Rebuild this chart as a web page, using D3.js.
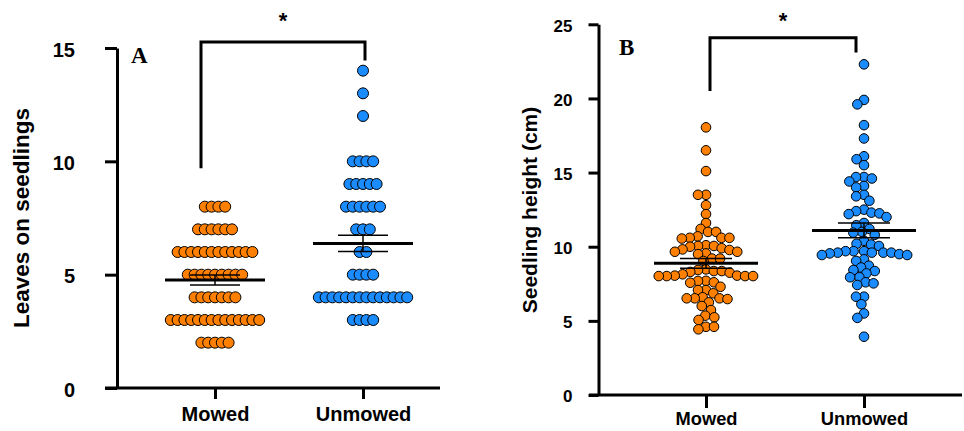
<!DOCTYPE html>
<meta charset="utf-8">
<script src="https://d3js.org/d3.v7.min.js"></script>
<style>
  body { margin: 0; background: #fff; }
  text { font-family: "Liberation Sans", Arial, sans-serif; font-weight: bold; fill: #000; }
</style>
<body>
<div id="chart"></div>
<script>
// groups and data
const groups = ["Mowed", "Unmowed"];

const leavesMowed = [8,8,8,8, 7,7,7,7,7,7, 6,6,6,6,6,6,6,6,6,6,6,6,
  5,5,5,5,5,5,5,5,5, 4,4,4,4,4,4,4, 3,3,3,3,3,3,3,3,3,3,3,3,3,3, 2,2,2,2,2];
const leavesUnmowed = [14, 13, 12, 10,10,10,10, 9,9,9,9,9, 8,8,8,8,8,8, 7,7,7, 6,6,
  5,5,5,5, 4,4,4,4,4,4,4,4,4,4,4,4,4,4, 3,3,3,3];

const heightMowed = [18.05, 16.5, 15.1, 13.5, 13.5, 12.8, 12.2, 11.6, 11.2, 10.7, 10.55, 10.6,
  10.1, 9.9, 10.0, 10.05, 9.5, 9.66, 9.66, 9.2, 8.05, 8.05, 8.3, 8.36, 8.14, 8.47, 8.36,
  7.6, 7.69, 7.7, 7.08, 7.08, 6.59, 6.52, 6.47, 6.0, 6.25, 5.73, 5.24, 5.06, 4.6, 4.43,
  11.0, 11.0, 10.6, 10.6, 10.05, 9.78, 9.82, 9.55, 9.2, 9.04, 8.43, 8.25, 8.02, 8.02, 8.02,
  8.02, 7.57, 7.3, 6.86, 6.52, 6.52, 5.35, 4.6];
const heightUnmowed = [22.3, 19.9, 19.6, 18.2, 17.3, 16.1, 15.9, 15.5, 14.6, 14.7, 14.7, 14.4,
  14.1, 14.0, 13.4, 13.5, 13.1, 12.5, 12.25, 12.2, 12.0, 12.3, 12.4, 11.45, 11.6, 11.2, 10.95,
  11.0, 10.8, 10.4, 10.15, 10.05, 10.2, 9.7, 9.6, 9.6, 9.5, 9.44, 9.55, 9.7, 9.44, 9.7, 9.6,
  9.6, 9.15, 9.04, 8.6, 8.72, 8.36, 8.2, 8.43, 7.94, 7.94, 7.6, 7.42, 7.53, 6.63, 6.63, 6.12,
  5.5, 5.2, 3.93];

// mean and SEM as drawn
const leavesMean = [4.76, 6.38];
const leavesSem = [0.22, 0.36];
const heightMean = [8.88, 11.1];
const heightSem = [0.33, 0.5];

const leavesTicks = [0, 5, 10, 15];
const heightTicks = [0, 5, 10, 15, 20, 25];
const colors = ["#ff8000", "#1a8cff"];

const svg = d3.select("#chart").append("svg")
  .attr("width", 964).attr("height", 431);

// rows of overlapping dots centred on the group
function rowLayout(values, step) {
  const out = [];
  d3.group(values, v => v).forEach((arr, v) => {
    arr.forEach((_, i) => out.push({v, dx: (i - (arr.length - 1) / 2) * step}));
  });
  return out;
}

// simple symmetric beeswarm
function dodge(values, y, d) {
  const pts = values.map(v => ({v, py: y(v)})).sort((a, b) => a.py - b.py);
  const placed = [];
  for (const p of pts) {
    const cands = [0];
    for (const q of placed) {
      const dy = Math.abs(q.py - p.py);
      if (dy < d) {
        const w = Math.sqrt(d * d - dy * dy);
        cands.push(q.dx - w, q.dx + w);
      }
    }
    cands.sort((a, b) => Math.abs(a) - Math.abs(b));
    for (const c of cands) {
      if (placed.every(q => (q.dx - c) ** 2 + (q.py - p.py) ** 2 >= d * d - 1e-6)) { p.dx = c; break; }
    }
    placed.push(p);
  }
  return placed;
}

function panel(cfg) {
  const g = svg.append("g");
  const y = d3.scaleLinear().domain([cfg.ticks[0], cfg.ticks[cfg.ticks.length - 1]])
    .range([cfg.bottom, cfg.top]);
  const x = d3.scalePoint().domain(groups).range(cfg.xr);

  // y axis
  const ay = g.append("g")
    .attr("transform", `translate(${cfg.left},0)`)
    .call(d3.axisLeft(y).tickValues(cfg.ticks).tickSize(cfg.tick).tickSizeOuter(0).tickPadding(cfg.pad));
  ay.select(".domain").attr("stroke-width", 3);
  ay.selectAll(".tick line").attr("stroke-width", 3);
  ay.selectAll(".tick text").style("font-size", cfg.fs + "px").attr("dy", "0.4em");

  // x axis
  g.append("line")
    .attr("x1", cfg.xStart).attr("x2", cfg.xEnd)
    .attr("y1", cfg.bottom).attr("y2", cfg.bottom)
    .attr("stroke", "#000").attr("stroke-width", 3);
  const ax = g.append("g")
    .attr("transform", `translate(0,${cfg.bottom})`)
    .call(d3.axisBottom(x).tickSize(cfg.xtick).tickPadding(cfg.xpad));
  ax.select(".domain").remove();
  ax.selectAll(".tick line").attr("stroke-width", 3);
  ax.selectAll(".tick text").style("font-size", cfg.xfs + "px");

  // axis title
  g.append("text")
    .attr("transform", `translate(${cfg.titleX},${cfg.titleY}) rotate(-90)`)
    .attr("text-anchor", "middle")
    .style("font-size", cfg.titleFs + "px")
    .text(cfg.title);

  // dots
  groups.forEach((grp, i) => {
    const pts = cfg.layout(cfg.data[i], y);
    g.append("g").selectAll("circle")
      .data(pts)
      .join("circle")
        .attr("cx", d => x(grp) + d.dx)
        .attr("cy", d => y(d.v))
        .attr("r", cfg.r)
        .attr("fill", colors[i])
        .attr("stroke", "#000")
        .attr("stroke-width", 1);
  });

  // mean and SEM
  groups.forEach((grp, i) => {
    const cx = x(grp), m = cfg.mean[i], s = cfg.sem[i];
    g.append("line")
      .attr("x1", cx - cfg.meanHalf).attr("x2", cx + cfg.meanHalf)
      .attr("y1", y(m)).attr("y2", y(m))
      .attr("stroke", "#000").attr("stroke-width", 3);
    g.append("line")
      .attr("x1", cx).attr("x2", cx)
      .attr("y1", y(m - s)).attr("y2", y(m + s))
      .attr("stroke", "#000").attr("stroke-width", 1.5);
    [m - s, m + s].forEach(v => g.append("line")
      .attr("x1", cx - cfg.capHalf).attr("x2", cx + cfg.capHalf)
      .attr("y1", y(v)).attr("y2", y(v))
      .attr("stroke", "#000").attr("stroke-width", 1.5));
  });

  // significance bracket
  const b = cfg.bracket;
  g.append("path")
    .attr("d", `M${x(groups[0]) + b.dl},${y(b.left)}V${y(b.top)}H${x(groups[1]) + b.dr}V${y(b.right)}`)
    .attr("fill", "none").attr("stroke", "#000").attr("stroke-width", 3);
  g.append("text")
    .attr("x", (x(groups[0]) + b.dl + x(groups[1]) + b.dr) / 2)
    .attr("y", b.starY)
    .attr("text-anchor", "middle")
    .style("font-size", "22px")
    .text("*");

  // panel letter
  g.append("text")
    .attr("x", cfg.letterX).attr("y", cfg.letterY)
    .style("font-family", "'Liberation Serif', 'Times New Roman', serif")
    .style("font-size", cfg.letterFs + "px")
    .text(cfg.letter);
}

function rowLayoutA(values) { return rowLayout(values, 6.8); }
function dodgeB(values, y) { return dodge(values, y, 8); }

panel({
  data: [leavesMowed, leavesUnmowed], mean: leavesMean, sem: leavesSem,
  ticks: leavesTicks, top: 48, bottom: 388, left: 117, xr: [215, 363],
  tick: 12, pad: 30, fs: 20, xStart: 105, xEnd: 440, xtick: 11, xpad: 8, xfs: 20,
  title: "Leaves on seedlings", titleX: 29, titleY: 218, titleFs: 22.5,
  layout: rowLayoutA, r: 5.5, meanHalf: 50, capHalf: 25,
  bracket: {dl: -14, dr: 2, left: 9.7, top: 15.26, right: 14.45, starY: 28},
  letter: "A", letterX: 131, letterY: 63, letterFs: 23
});

panel({
  data: [heightMowed, heightUnmowed], mean: heightMean, sem: heightSem,
  ticks: heightTicks, top: 24.3, bottom: 395, left: 598.5, xr: [706, 864],
  tick: 10, pad: 16, fs: 17, xStart: 589, xEnd: 962, xtick: 13, xpad: 4, xfs: 18.3,
  title: "Seedling height (cm)", titleX: 537, titleY: 210, titleFs: 21,
  layout: dodgeB, r: 4.8, meanHalf: 52, capHalf: 26,
  bracket: {dl: 4, dr: -8, left: 20.5, top: 24.1, right: 23.1, starY: 28},
  letter: "B", letterX: 619, letterY: 55, letterFs: 23
});
</script>
</body>
